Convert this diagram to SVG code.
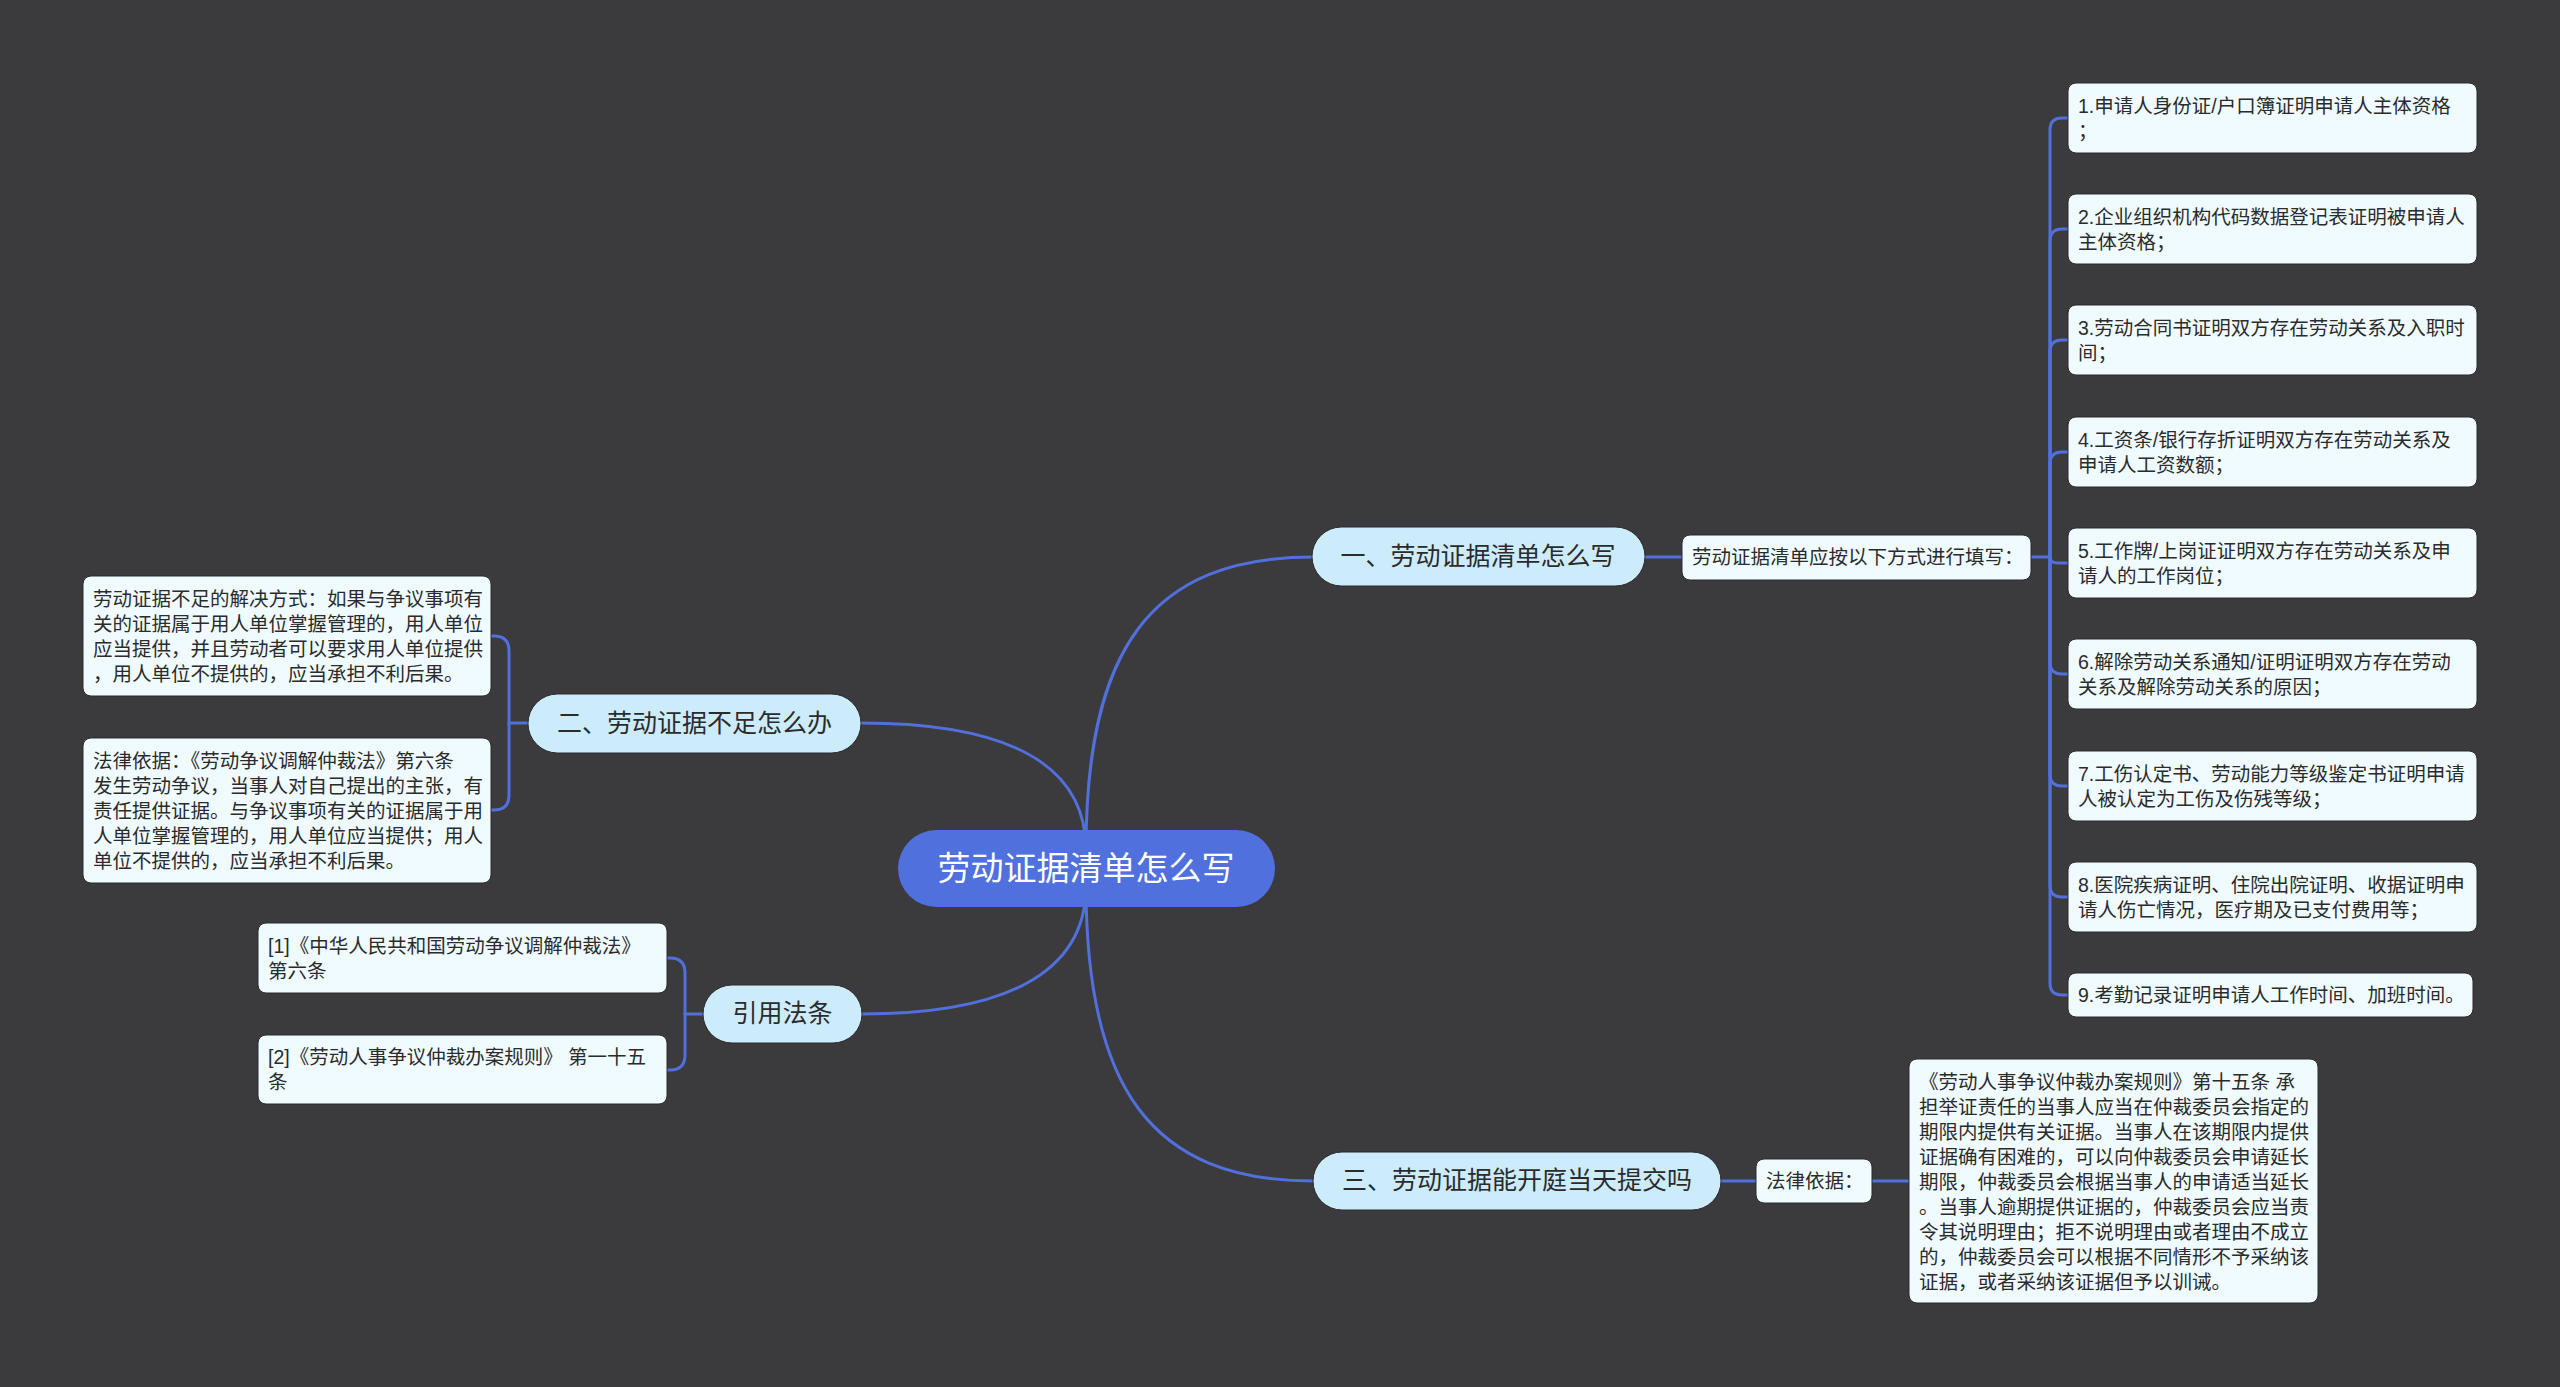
<svg xmlns="http://www.w3.org/2000/svg" width="2560" height="1387" viewBox="0 0 2560 1387">
<style>
.bg{fill:#3b3a3d}
.conn{fill:none;stroke:#5170dc;stroke-width:3;stroke-linecap:round}
.root{fill:#5070de}
.rootT{font-family:"Liberation Sans","Noto Sans CJK SC",sans-serif;font-size:33px;fill:#ffffff;text-anchor:middle;dominant-baseline:central}
.br{fill:#cdecfb;stroke:#2a2a2c;stroke-width:1}
.brT{font-family:"Liberation Sans","Noto Sans CJK SC",sans-serif;font-size:25px;fill:#2b2b2b;text-anchor:middle;dominant-baseline:central}
.leaf{fill:#effbfe;stroke:#2a2a2c;stroke-width:1}
.lT{font-family:"Liberation Sans","Noto Sans CJK SC",sans-serif;font-size:19.5px;fill:#2b2b2b;dominant-baseline:central}
</style>
<rect class="bg" x="0" y="0" width="2560" height="1387"/>
<g id="connectors">
<path class="conn" d="M1086,850 C1086,650 1150,557 1313,557"/>
<path class="conn" d="M1086,850 C1086,760 1000,723 861,723"/>
<path class="conn" d="M1086,886 C1086,976 1000,1014 862,1014"/>
<path class="conn" d="M1086,886 C1086,1086 1150,1181 1313,1181"/>
<path class="conn" d="M1645,557 H1682"/>
<path class="conn" d="M2031,557 H2050"/>
<path class="conn" d="M2050,557 V130 Q2050,118 2062,118 H2068"/>
<path class="conn" d="M2050,557 V241 Q2050,229 2062,229 H2068"/>
<path class="conn" d="M2050,557 V352 Q2050,340 2062,340 H2068"/>
<path class="conn" d="M2050,557 V464 Q2050,452 2062,452 H2068"/>
<path class="conn" d="M2050,557 Q2050,563 2058,563 H2068"/>
<path class="conn" d="M2050,557 V662 Q2050,674 2062,674 H2068"/>
<path class="conn" d="M2050,557 V774 Q2050,786 2062,786 H2068"/>
<path class="conn" d="M2050,557 V885 Q2050,897 2062,897 H2068"/>
<path class="conn" d="M2050,557 V983 Q2050,995 2062,995 H2068"/>
<path class="conn" d="M528,723 H509"/>
<path class="conn" d="M509,723 V651 Q509,636 494,636 H491"/>
<path class="conn" d="M509,723 V795 Q509,810 494,810 H491"/>
<path class="conn" d="M703,1014 H685"/>
<path class="conn" d="M685,1014 V973 Q685,958 670,958 H667"/>
<path class="conn" d="M685,1014 V1055 Q685,1070 670,1070 H667"/>
<path class="conn" d="M1721,1181 H1756"/>
<path class="conn" d="M1872,1181 H1909"/>
</g>
<g id="root">
<rect class="root" x="898" y="830" width="377" height="77" rx="38.5"/>
<text class="rootT" x="1086" y="868">劳动证据清单怎么写</text>
</g>
<g id="branch1">
<rect class="br" x="1312" y="527" width="333" height="59" rx="29.5"/>
<text class="brT" x="1478" y="556">一、劳动证据清单怎么写</text>
</g>
<g id="mid1">
<rect class="leaf" x="1682" y="535" width="349" height="45" rx="8"/>
<text class="lT" x="1692" y="557">劳动证据清单应按以下方式进行填写：</text>
</g>
<g id="leaf1">
<rect class="leaf" x="2068" y="83" width="409" height="70" rx="8"/>
<text class="lT" x="2078" y="105.5">1.申请人身份证/户口簿证明申请人主体资格</text>
<text class="lT" x="2078" y="130.5">；</text>
</g>
<g id="leaf2">
<rect class="leaf" x="2068" y="194" width="409" height="70" rx="8"/>
<text class="lT" x="2078" y="216.5">2.企业组织机构代码数据登记表证明被申请人</text>
<text class="lT" x="2078" y="241.5">主体资格；</text>
</g>
<g id="leaf3">
<rect class="leaf" x="2068" y="305" width="409" height="70" rx="8"/>
<text class="lT" x="2078" y="327.5">3.劳动合同书证明双方存在劳动关系及入职时</text>
<text class="lT" x="2078" y="352.5">间；</text>
</g>
<g id="leaf4">
<rect class="leaf" x="2068" y="417" width="409" height="70" rx="8"/>
<text class="lT" x="2078" y="439.5">4.工资条/银行存折证明双方存在劳动关系及</text>
<text class="lT" x="2078" y="464.5">申请人工资数额；</text>
</g>
<g id="leaf5">
<rect class="leaf" x="2068" y="528" width="409" height="70" rx="8"/>
<text class="lT" x="2078" y="550.5">5.工作牌/上岗证证明双方存在劳动关系及申</text>
<text class="lT" x="2078" y="575.5">请人的工作岗位；</text>
</g>
<g id="leaf6">
<rect class="leaf" x="2068" y="639" width="409" height="70" rx="8"/>
<text class="lT" x="2078" y="661.5">6.解除劳动关系通知/证明证明双方存在劳动</text>
<text class="lT" x="2078" y="686.5">关系及解除劳动关系的原因；</text>
</g>
<g id="leaf7">
<rect class="leaf" x="2068" y="751" width="409" height="70" rx="8"/>
<text class="lT" x="2078" y="773.5">7.工伤认定书、劳动能力等级鉴定书证明申请</text>
<text class="lT" x="2078" y="798.5">人被认定为工伤及伤残等级；</text>
</g>
<g id="leaf8">
<rect class="leaf" x="2068" y="862" width="409" height="70" rx="8"/>
<text class="lT" x="2078" y="884.5">8.医院疾病证明、住院出院证明、收据证明申</text>
<text class="lT" x="2078" y="909.5">请人伤亡情况，医疗期及已支付费用等；</text>
</g>
<g id="leaf9">
<rect class="leaf" x="2068" y="973" width="405" height="44" rx="8"/>
<text class="lT" x="2078" y="995">9.考勤记录证明申请人工作时间、加班时间。</text>
</g>
<g id="branch2">
<rect class="br" x="528" y="694" width="333" height="59" rx="29.5"/>
<text class="brT" x="694.5" y="723">二、劳动证据不足怎么办</text>
</g>
<g id="leafA">
<rect class="leaf" x="83" y="576" width="408" height="120" rx="8"/>
<text class="lT" x="93" y="598.5">劳动证据不足的解决方式：如果与争议事项有</text>
<text class="lT" x="93" y="623.5">关的证据属于用人单位掌握管理的，用人单位</text>
<text class="lT" x="93" y="648.5">应当提供，并且劳动者可以要求用人单位提供</text>
<text class="lT" x="93" y="673.5">，用人单位不提供的，应当承担不利后果。</text>
</g>
<g id="leafB">
<rect class="leaf" x="83" y="738" width="408" height="145" rx="8"/>
<text class="lT" x="93" y="760.5">法律依据：《劳动争议调解仲裁法》第六条</text>
<text class="lT" x="93" y="785.5">发生劳动争议，当事人对自己提出的主张，有</text>
<text class="lT" x="93" y="810.5">责任提供证据。与争议事项有关的证据属于用</text>
<text class="lT" x="93" y="835.5">人单位掌握管理的，用人单位应当提供；用人</text>
<text class="lT" x="93" y="860.5">单位不提供的，应当承担不利后果。</text>
</g>
<g id="branchRef">
<rect class="br" x="703" y="985" width="159" height="58" rx="29"/>
<text class="brT" x="782.5" y="1013">引用法条</text>
</g>
<g id="ref1">
<rect class="leaf" x="258" y="923" width="409" height="70" rx="8"/>
<text class="lT" x="268" y="945.5">[1]《中华人民共和国劳动争议调解仲裁法》</text>
<text class="lT" x="268" y="970.5">第六条</text>
</g>
<g id="ref2">
<rect class="leaf" x="258" y="1035" width="409" height="69" rx="8"/>
<text class="lT" x="268" y="1057">[2]《劳动人事争议仲裁办案规则》 第一十五</text>
<text class="lT" x="268" y="1082">条</text>
</g>
<g id="branch3">
<rect class="br" x="1313" y="1152" width="408" height="58" rx="29"/>
<text class="brT" x="1517" y="1180">三、劳动证据能开庭当天提交吗</text>
</g>
<g id="basis">
<rect class="leaf" x="1756" y="1159" width="116" height="44" rx="8"/>
<text class="lT" x="1766" y="1181">法律依据：</text>
</g>
<g id="bigLeaf">
<rect class="leaf" x="1909" y="1059" width="409" height="244" rx="8"/>
<text class="lT" x="1919" y="1081.5">《劳动人事争议仲裁办案规则》第十五条 承</text>
<text class="lT" x="1919" y="1106.5">担举证责任的当事人应当在仲裁委员会指定的</text>
<text class="lT" x="1919" y="1131.5">期限内提供有关证据。当事人在该期限内提供</text>
<text class="lT" x="1919" y="1156.5">证据确有困难的，可以向仲裁委员会申请延长</text>
<text class="lT" x="1919" y="1181.5">期限，仲裁委员会根据当事人的申请适当延长</text>
<text class="lT" x="1919" y="1206.5">。当事人逾期提供证据的，仲裁委员会应当责</text>
<text class="lT" x="1919" y="1231.5">令其说明理由；拒不说明理由或者理由不成立</text>
<text class="lT" x="1919" y="1256.5">的，仲裁委员会可以根据不同情形不予采纳该</text>
<text class="lT" x="1919" y="1281.5">证据，或者采纳该证据但予以训诫。</text>
</g>
</svg>
